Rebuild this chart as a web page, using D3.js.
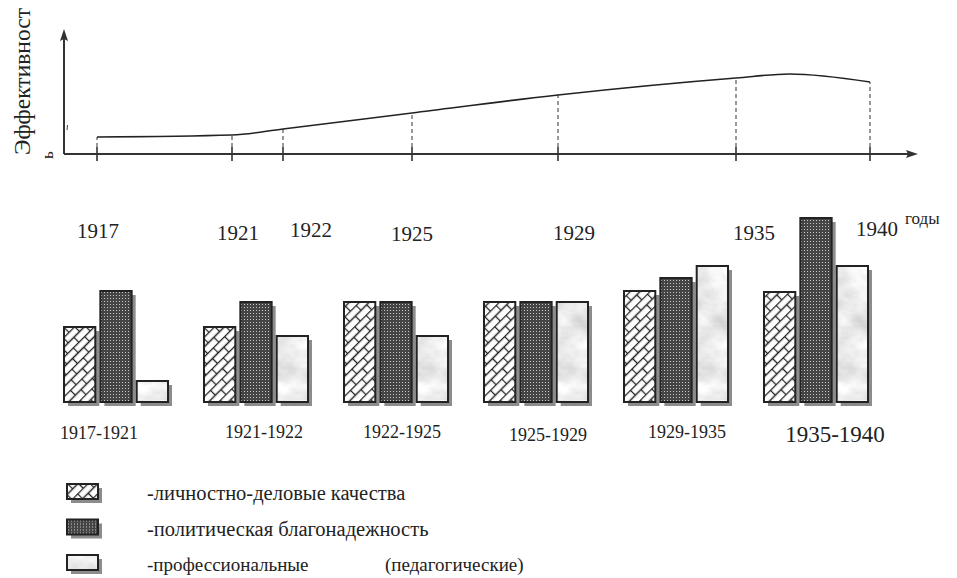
<!DOCTYPE html>
<html>
<head>
<meta charset="utf-8">
<script src="https://cdn.jsdelivr.net/npm/d3@7/dist/d3.min.js"></script>
<style>
  body { margin: 0; background: #fff; }
  text { font-family: "Liberation Serif", "DejaVu Serif", serif; fill: #222; }
</style>
</head>
<body>
<script>

// top curve: effectiveness over the years
var years = [1917, 1921, 1922, 1925, 1929, 1935, 1940];
var curveYears = [1917, 1921, 1922, 1925, 1929, 1935, 1937, 1940];
var effectiveness = [17, 19, 25, 41, 59, 76, 80, 72];

// bar groups
var periods = ["1917-1921", "1921-1922", "1922-1925", "1925-1929", "1929-1935", "1935-1940"];
var seriesKeys = ["personal", "political", "professional"];
var personal = [75, 75, 100, 100, 111, 110];
var political = [111, 100, 100, 100, 124, 184];
var professional = [21, 66, 66, 100, 136, 136];
var legendLabels = ["-личностно-деловые качества", "-политическая благонадежность", "-профессиональные"];

var width = 957, height = 578;

var svg = d3.select("body").append("svg")
    .attr("width", width)
    .attr("height", height);

// ---------- patterns ----------
var defs = svg.append("defs");

var brick = defs.append("pattern")
    .attr("id", "brick")
    .attr("patternUnits", "userSpaceOnUse")
    .attr("width", 16).attr("height", 14)
    .attr("patternTransform", "rotate(-45)");
brick.append("rect").attr("width", 16).attr("height", 14).attr("fill", "#fff");
brick.append("path")
    .attr("d", "M0,0.5H16M0,7.5H16M0.5,0V7M8.5,7V14")
    .attr("stroke", "#222").attr("stroke-width", 1.3).attr("fill", "none");

var dots = defs.append("pattern")
    .attr("id", "dots")
    .attr("patternUnits", "userSpaceOnUse")
    .attr("width", 3).attr("height", 3);
dots.append("rect").attr("width", 3).attr("height", 3).attr("fill", "#454545");
dots.append("rect").attr("x", 1).attr("y", 1).attr("width", 1).attr("height", 1).attr("fill", "#c8c8c8");

var marbleFilter = defs.append("filter")
    .attr("id", "marbleFx")
    .attr("x", 0).attr("y", 0).attr("width", 1).attr("height", 1);
marbleFilter.append("feTurbulence")
    .attr("type", "fractalNoise")
    .attr("baseFrequency", "0.035 0.05")
    .attr("numOctaves", 4)
    .attr("seed", 7);
marbleFilter.append("feColorMatrix")
    .attr("type", "matrix")
    .attr("values", "0.55 0 0 0 0.55  0.55 0 0 0 0.55  0.55 0 0 0 0.55  0 0 0 0 1");

var marble = defs.append("pattern")
    .attr("id", "marble")
    .attr("patternUnits", "userSpaceOnUse")
    .attr("width", 400).attr("height", 400);
marble.append("rect").attr("width", 400).attr("height", 400)
    .attr("fill", "#ddd").attr("filter", "url(#marbleFx)");

var fills = { personal: "url(#brick)", political: "url(#dots)", professional: "url(#marble)" };

// ---------- top chart ----------
var tickX = [97, 232, 283, 412, 558, 736, 870];
var xTop = d3.scaleLinear().domain(years).range(tickX);
var yTop = d3.scaleLinear().domain([0, 125]).range([154, 29]);

var topG = svg.append("g");

topG.append("line")
    .attr("x1", 64).attr("x2", 910)
    .attr("y1", yTop(0)).attr("y2", yTop(0))
    .attr("stroke", "#333").attr("stroke-width", 2);
topG.append("path")
    .attr("d", "M918,154L906,150L908,154L906,158Z")
    .attr("fill", "#333");

topG.append("line")
    .attr("x1", 64).attr("x2", 64)
    .attr("y1", yTop(0)).attr("y2", 36)
    .attr("stroke", "#333").attr("stroke-width", 2);
topG.append("path")
    .attr("d", "M64,29L60,41L64,39L68,41Z")
    .attr("fill", "#333");

var effAt = {};
curveYears.forEach(function (y, i) { effAt[y] = effectiveness[i]; });

topG.selectAll(".guide")
    .data(years)
    .enter()
    .append("line")
    .attr("class", "guide")
    .attr("x1", function (d) { return xTop(d); })
    .attr("x2", function (d) { return xTop(d); })
    .attr("y1", 147)
    .attr("y2", function (d) { return yTop(effAt[d]); })
    .attr("stroke", "#333").attr("stroke-width", 1)
    .attr("stroke-dasharray", "4,3");

topG.selectAll(".tick")
    .data(years)
    .enter()
    .append("line")
    .attr("class", "tick")
    .attr("x1", function (d) { return xTop(d); })
    .attr("x2", function (d) { return xTop(d); })
    .attr("y1", 147).attr("y2", 161)
    .attr("stroke", "#333").attr("stroke-width", 1.6);

var line = d3.line()
    .x(function (d) { return xTop(d[0]); })
    .y(function (d) { return yTop(d[1]); })
    .curve(d3.curveMonotoneX);

topG.append("path")
    .datum(d3.zip(curveYears, effectiveness))
    .attr("d", line)
    .attr("fill", "none")
    .attr("stroke", "#222")
    .attr("stroke-width", 1.6);

// y label
topG.append("text")
    .attr("transform", "translate(30,155) rotate(-90)")
    .style("font-size", "23.5px")
    .text("Эффективност");
topG.append("text")
    .attr("transform", "translate(53,159) rotate(-90)")
    .style("font-size", "17px")
    .text("ь");
topG.append("line")
    .attr("x1", 67.5).attr("x2", 67)
    .attr("y1", 125).attr("y2", 130)
    .attr("stroke", "#444").attr("stroke-width", 1);

// year labels
var yearDx = [1, 6, 28, 0, 16, 18, 7];
var yearY = [238, 240, 237, 241, 240, 240, 236];
topG.selectAll(".year")
    .data(years)
    .enter()
    .append("text")
    .attr("class", "year")
    .attr("x", function (d, i) { return xTop(d) + yearDx[i]; })
    .attr("y", function (d, i) { return yearY[i]; })
    .attr("text-anchor", "middle")
    .style("font-size", "21px")
    .text(function (d) { return d; });

topG.append("text")
    .attr("x", 905).attr("y", 224)
    .style("font-size", "17px")
    .text("годы");

// ---------- bars ----------
var x0 = d3.scaleBand().domain(periods).range([64, 868]).paddingInner(36 / 140);
var x1 = d3.scaleBand().domain(seriesKeys).range([0, x0.bandwidth()]).paddingInner(5 / 36);
var yBar = d3.scaleLinear().domain([0, 200]).range([402, 202]);

var barData = periods.map(function (p, i) {
    return { period: p, values: [
        { key: "personal", value: personal[i] },
        { key: "political", value: political[i] },
        { key: "professional", value: professional[i] }
    ] };
});

var groups = svg.selectAll(".group")
    .data(barData)
    .enter()
    .append("g")
    .attr("class", "group")
    .attr("transform", function (d) { return "translate(" + x0(d.period) + ",0)"; });

groups.selectAll(".shadow")
    .data(function (d) { return d.values; })
    .enter()
    .append("rect")
    .attr("class", "shadow")
    .attr("x", function (d) { return x1(d.key) + 4; })
    .attr("y", function (d) { return yBar(d.value) + 4; })
    .attr("width", x1.bandwidth())
    .attr("height", function (d) { return yBar(0) - yBar(d.value); })
    .attr("fill", "#8c8c8c");

groups.selectAll(".bar")
    .data(function (d) { return d.values; })
    .enter()
    .append("rect")
    .attr("class", "bar")
    .attr("x", function (d) { return x1(d.key); })
    .attr("y", function (d) { return yBar(d.value); })
    .attr("width", x1.bandwidth())
    .attr("height", function (d) { return yBar(0) - yBar(d.value); })
    .attr("fill", function (d) { return fills[d.key]; })
    .attr("stroke", "#222")
    .attr("stroke-width", 2);

var periodDx = [-17, 8, 6, 12, 11, 19];
var periodY = [439, 438, 438, 441, 438, 442];
var periodSize = [18, 18, 18, 18, 18, 23];
svg.selectAll(".period")
    .data(periods)
    .enter()
    .append("text")
    .attr("class", "period")
    .attr("x", function (d, i) { return x0(d) + x0.bandwidth() / 2 + periodDx[i]; })
    .attr("y", function (d, i) { return periodY[i]; })
    .attr("text-anchor", "middle")
    .style("font-size", function (d, i) { return periodSize[i] + "px"; })
    .text(function (d) { return d; });

// ---------- legend ----------
var legendSize = [20.5, 20.5, 19];
var legend = svg.selectAll(".legend")
    .data(seriesKeys)
    .enter()
    .append("g")
    .attr("class", "legend")
    .attr("transform", function (d, i) { return "translate(67," + (484 + i * 35.5) + ")"; });

legend.append("rect")
    .attr("x", 4).attr("y", 4)
    .attr("width", 31).attr("height", 15)
    .attr("fill", "#8c8c8c");
legend.append("rect")
    .attr("width", 31).attr("height", 15)
    .attr("fill", function (d) { return fills[d]; })
    .attr("stroke", "#222").attr("stroke-width", 2);
legend.append("text")
    .attr("x", 80).attr("y", 16)
    .style("font-size", function (d, i) { return legendSize[i] + "px"; })
    .text(function (d, i) { return legendLabels[i]; });

svg.append("text")
    .attr("x", 385).attr("y", 571)
    .style("font-size", "19px")
    .text("(педагогические)");

</script>
</body>
</html>
